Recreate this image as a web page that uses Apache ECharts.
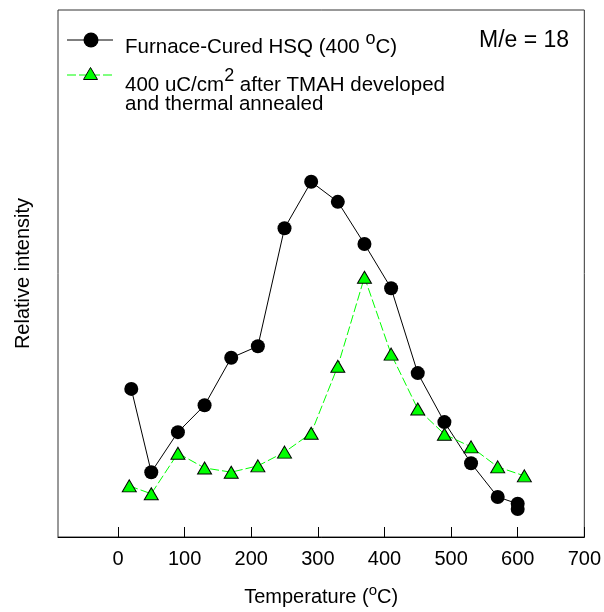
<!DOCTYPE html>
<html lang="en">
<head>
    <meta charset="UTF-8">
    <title>Relative intensity vs temperature</title>
    <script src="https://cdn.jsdelivr.net/npm/echarts@6/dist/echarts.min.js"></script>
    <style>
        html, body { margin: 0; padding: 0; background: #fff; }
    </style>
</head>
<body>
<div id="main" style="width: 604px;height:612px;"></div>
<script>
    // Furnace-cured HSQ (400 oC)
    var hsqTemp = [20, 50, 90, 130, 170, 210, 250, 290, 330, 370, 410, 450, 490, 530, 570, 600, 600];
    var hsqVal = [28.1, 12.3, 19.9, 25.0, 34.0, 36.2, 58.6, 67.4, 63.6, 55.6, 47.2, 31.1, 21.8, 14.0, 7.6, 6.3, 5.3];
    // 400 uC/cm2 after TMAH developed and thermal annealed
    var tmahTemp = [17, 50, 90, 130, 170, 210, 250, 290, 330, 370, 410, 450, 490, 530, 570, 610];
    var tmahVal = [9.7, 8.2, 15.9, 13.1, 12.3, 13.5, 16.1, 19.7, 32.4, 49.3, 34.7, 24.3, 19.5, 17.1, 13.3, 11.6];
    var tickLabels = [0, 100, 200, 300, 400, 500, 600, 700];

    function pairs(xs, ys) {
        var out = [];
        for (var i = 0; i < xs.length; i++) out.push([xs[i], ys[i]]);
        return out;
    }

    var font = 'Liberation Sans, Arial, sans-serif';
    // legend text: superscripts are nearly full size, just raised
    var legRich = {
        a: { fontSize: 20.5, fontFamily: font, color: '#000', verticalAlign: 'bottom', lineHeight: 24 },
        s: { fontSize: 18, fontFamily: font, color: '#000', verticalAlign: 'bottom', lineHeight: 24, padding: [0, 0, 10, 0] }
    };
    var nameRich = {
        a: { fontSize: 20, fontFamily: font, color: '#000', verticalAlign: 'bottom', lineHeight: 24 },
        s: { fontSize: 15, fontFamily: font, color: '#000', verticalAlign: 'bottom', lineHeight: 24, padding: [0, 0, 9, 0] }
    };

    var myChart = echarts.init(document.getElementById('main'));
    var option = {
        animation: false,
        backgroundColor: '#fff',
        grid: {
            left: 58, right: 18, top: 10, bottom: 75,
            show: true, borderColor: '#333', borderWidth: 1
        },
        xAxis: {
            type: 'value',
            min: -90,
            max: 700,
            name: '{a|Temperature (}{s|o}{a|C)}',
            nameLocation: 'middle',
            nameGap: 46,
            nameTextStyle: { rich: nameRich },
            axisLine: { lineStyle: { color: '#000', width: 1 } },
            axisTick: { inside: true, length: 10, customValues: tickLabels, lineStyle: { color: '#000' } },
            axisLabel: { customValues: tickLabels, fontSize: 20, fontFamily: font, color: '#000', margin: 12 },
            splitLine: { show: false }
        },
        yAxis: {
            type: 'value',
            min: 0,
            max: 100,
            name: 'Relative intensity',
            nameLocation: 'middle',
            nameGap: 25,
            nameTextStyle: { fontSize: 20, fontFamily: font, color: '#000' },
            axisLine: { show: false },
            axisTick: { show: false },
            axisLabel: { show: false },
            splitLine: { show: false }
        },
        graphic: [
            { type: 'line', shape: { x1: 67, y1: 40, x2: 113, y2: 40 }, style: { stroke: '#000', lineWidth: 1 } },
            { type: 'circle', shape: { cx: 91, cy: 40, r: 7.5 }, style: { fill: '#000' } },
            { type: 'text', x: 125, y: 46, style: { text: '{a|Furnace-Cured HSQ (400 }{s|o}{a|C)}', rich: legRich, verticalAlign: 'middle' } },
            { type: 'line', shape: { x1: 67, y1: 75, x2: 113, y2: 75 }, style: { stroke: '#00ff00', lineWidth: 1, lineDash: [9, 3] } },
            { type: 'polygon', shape: { points: [[90.5, 67.5], [97.5, 79.5], [83.5, 79.5]] }, style: { fill: '#00ff00', stroke: '#000', lineWidth: 1 } },
            { type: 'text', x: 125, y: 83.5, style: { text: '{a|400 uC/cm}{s|2}{a| after TMAH developed}', rich: legRich, verticalAlign: 'middle' } },
            { type: 'text', x: 125, y: 104.5, style: { text: 'and thermal annealed', font: '20.5px ' + font, fill: '#000', verticalAlign: 'middle' } },
            { type: 'text', x: 479, y: 41, style: { text: 'M/e = 18', font: '23px ' + font, fill: '#000', verticalAlign: 'middle' } }
        ],
        series: [
            {
                name: 'Furnace-Cured HSQ',
                type: 'line',
                data: pairs(hsqTemp, hsqVal),
                symbol: 'circle',
                symbolSize: 14,
                itemStyle: { color: '#000' },
                lineStyle: { color: '#000', width: 1 },
                z: 3
            },
            {
                name: 'TMAH developed',
                type: 'line',
                data: pairs(tmahTemp, tmahVal),
                symbol: 'triangle',
                symbolSize: [14, 12],
                itemStyle: { color: '#00ff00', borderColor: '#000', borderWidth: 1 },
                lineStyle: { color: '#00ff00', width: 1, type: [9, 3] },
                z: 4
            }
        ]
    };
    myChart.setOption(option);
</script>
</body>
</html>
